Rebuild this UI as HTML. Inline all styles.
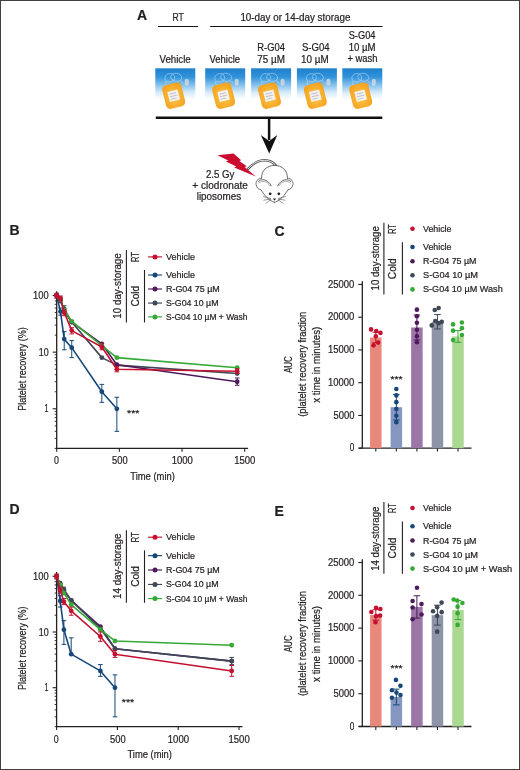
<!DOCTYPE html>
<html><head><meta charset="utf-8">
<style>
html,body{margin:0;padding:0;background:#fff;}
svg{display:block;font-family:"Liberation Sans",sans-serif;will-change:transform;}
</style></head>
<body>
<svg width="520" height="770" viewBox="0 0 520 770" fill="#231f20">
<style>text{stroke:#231f20;stroke-width:0.22px;}</style>
<rect x="0.5" y="0.5" width="519" height="769" fill="none" stroke="#414141" stroke-width="1"/>
<text x="137.00" y="20.00" font-size="14" font-weight="bold">A</text>
<text x="172.50" y="20.60" font-size="10" textLength="11.30" lengthAdjust="spacingAndGlyphs">RT</text>
<line x1="158.00" y1="26.50" x2="198.10" y2="26.50" stroke="#111" stroke-width="1.15"/>
<text x="240.40" y="20.50" font-size="10" textLength="110.00" lengthAdjust="spacingAndGlyphs">10-day or 14-day storage</text>
<line x1="210.20" y1="26.50" x2="382.50" y2="26.50" stroke="#111" stroke-width="1.15"/>
<text x="175.10" y="62.90" font-size="10" text-anchor="middle" textLength="31.20" lengthAdjust="spacingAndGlyphs">Vehicle</text>
<text x="224.80" y="62.90" font-size="10" text-anchor="middle" textLength="30.60" lengthAdjust="spacingAndGlyphs">Vehicle</text>
<text x="271.10" y="50.90" font-size="10" text-anchor="middle" textLength="27.60" lengthAdjust="spacingAndGlyphs">R-G04</text>
<text x="271.10" y="62.90" font-size="10" text-anchor="middle" textLength="27.60" lengthAdjust="spacingAndGlyphs">75 µM</text>
<text x="315.80" y="50.90" font-size="10" text-anchor="middle" textLength="27.60" lengthAdjust="spacingAndGlyphs">S-G04</text>
<text x="314.90" y="62.90" font-size="10" text-anchor="middle" textLength="27.60" lengthAdjust="spacingAndGlyphs">10 µM</text>
<text x="362.10" y="39.20" font-size="10" text-anchor="middle" textLength="26.80" lengthAdjust="spacingAndGlyphs">S-G04</text>
<text x="362.10" y="50.90" font-size="10" text-anchor="middle" textLength="26.90" lengthAdjust="spacingAndGlyphs">10 µM</text>
<text x="362.40" y="62.30" font-size="10" text-anchor="middle" textLength="30.00" lengthAdjust="spacingAndGlyphs">+ wash</text>
<defs>
<linearGradient id="cg" x1="0" y1="0" x2="0" y2="1">
<stop offset="0" stop-color="#1f80cc"/>
<stop offset="0.2" stop-color="#2f92da"/>
<stop offset="0.4" stop-color="#86c2ec"/>
<stop offset="0.58" stop-color="#d8ecfa"/>
<stop offset="0.74" stop-color="#ffffff"/>
<stop offset="1" stop-color="#ffffff"/>
</linearGradient>
<radialGradient id="og" cx="0.5" cy="0.55" r="0.62">
<stop offset="0" stop-color="#fcc64c"/>
<stop offset="0.6" stop-color="#f8b030"/>
<stop offset="1" stop-color="#f4a11c"/>
</radialGradient>
</defs>
<rect x="155.30" y="68.30" width="40.00" height="42.00" fill="url(#cg)"/>
<g fill="none" stroke="#e2f0fb" stroke-width="0.55" opacity="0.75"><ellipse cx="169.8" cy="77.8" rx="5" ry="4.2" transform="rotate(-10 169.8 77.8)"/><ellipse cx="176.3" cy="77.3" rx="5.5" ry="4" transform="rotate(8 176.3 77.3)"/><path d="M165.3,81.3 L167.3,87.3 M180.3,80.3 L183.3,83.3"/></g>
<rect x="184.8" y="78.8" width="4" height="7" rx="2" fill="#d0d8e2" opacity="0.85"/>
<g transform="translate(173.7,95.7) rotate(-14)"><rect x="-9.8" y="-12.2" width="19.6" height="24.4" rx="4.5" fill="url(#og)"/><rect x="-5.2" y="-5.2" width="10.4" height="10.4" fill="#f3f1ee"/><line x1="-3.6" y1="-2.4" x2="3" y2="-2.4" stroke="#9aa8c0" stroke-width="0.6"/><line x1="-3.6" y1="0.2" x2="3.6" y2="0.2" stroke="#b49ab8" stroke-width="0.6"/><line x1="-3.6" y1="2.8" x2="2" y2="2.8" stroke="#9ab8a8" stroke-width="0.6"/></g>
<rect x="205.20" y="68.30" width="40.00" height="42.00" fill="url(#cg)"/>
<g fill="none" stroke="#e2f0fb" stroke-width="0.55" opacity="0.75"><ellipse cx="219.7" cy="77.8" rx="5" ry="4.2" transform="rotate(-10 219.7 77.8)"/><ellipse cx="226.2" cy="77.3" rx="5.5" ry="4" transform="rotate(8 226.2 77.3)"/><path d="M215.2,81.3 L217.2,87.3 M230.2,80.3 L233.2,83.3"/></g>
<rect x="234.7" y="78.8" width="4" height="7" rx="2" fill="#d0d8e2" opacity="0.85"/>
<g transform="translate(223.6,95.7) rotate(-14)"><rect x="-9.8" y="-12.2" width="19.6" height="24.4" rx="4.5" fill="url(#og)"/><rect x="-5.2" y="-5.2" width="10.4" height="10.4" fill="#f3f1ee"/><line x1="-3.6" y1="-2.4" x2="3" y2="-2.4" stroke="#9aa8c0" stroke-width="0.6"/><line x1="-3.6" y1="0.2" x2="3.6" y2="0.2" stroke="#b49ab8" stroke-width="0.6"/><line x1="-3.6" y1="2.8" x2="2" y2="2.8" stroke="#9ab8a8" stroke-width="0.6"/></g>
<rect x="251.10" y="68.30" width="40.00" height="42.00" fill="url(#cg)"/>
<g fill="none" stroke="#e2f0fb" stroke-width="0.55" opacity="0.75"><ellipse cx="265.6" cy="77.8" rx="5" ry="4.2" transform="rotate(-10 265.6 77.8)"/><ellipse cx="272.1" cy="77.3" rx="5.5" ry="4" transform="rotate(8 272.1 77.3)"/><path d="M261.1,81.3 L263.1,87.3 M276.1,80.3 L279.1,83.3"/></g>
<rect x="280.6" y="78.8" width="4" height="7" rx="2" fill="#d0d8e2" opacity="0.85"/>
<g transform="translate(269.5,95.7) rotate(-14)"><rect x="-9.8" y="-12.2" width="19.6" height="24.4" rx="4.5" fill="url(#og)"/><rect x="-5.2" y="-5.2" width="10.4" height="10.4" fill="#f3f1ee"/><line x1="-3.6" y1="-2.4" x2="3" y2="-2.4" stroke="#9aa8c0" stroke-width="0.6"/><line x1="-3.6" y1="0.2" x2="3.6" y2="0.2" stroke="#b49ab8" stroke-width="0.6"/><line x1="-3.6" y1="2.8" x2="2" y2="2.8" stroke="#9ab8a8" stroke-width="0.6"/></g>
<rect x="296.90" y="68.30" width="40.00" height="42.00" fill="url(#cg)"/>
<g fill="none" stroke="#e2f0fb" stroke-width="0.55" opacity="0.75"><ellipse cx="311.4" cy="77.8" rx="5" ry="4.2" transform="rotate(-10 311.4 77.8)"/><ellipse cx="317.9" cy="77.3" rx="5.5" ry="4" transform="rotate(8 317.9 77.3)"/><path d="M306.9,81.3 L308.9,87.3 M321.9,80.3 L324.9,83.3"/></g>
<rect x="326.4" y="78.8" width="4" height="7" rx="2" fill="#d0d8e2" opacity="0.85"/>
<g transform="translate(315.3,95.7) rotate(-14)"><rect x="-9.8" y="-12.2" width="19.6" height="24.4" rx="4.5" fill="url(#og)"/><rect x="-5.2" y="-5.2" width="10.4" height="10.4" fill="#f3f1ee"/><line x1="-3.6" y1="-2.4" x2="3" y2="-2.4" stroke="#9aa8c0" stroke-width="0.6"/><line x1="-3.6" y1="0.2" x2="3.6" y2="0.2" stroke="#b49ab8" stroke-width="0.6"/><line x1="-3.6" y1="2.8" x2="2" y2="2.8" stroke="#9ab8a8" stroke-width="0.6"/></g>
<rect x="342.30" y="68.30" width="40.00" height="42.00" fill="url(#cg)"/>
<g fill="none" stroke="#e2f0fb" stroke-width="0.55" opacity="0.75"><ellipse cx="356.8" cy="77.8" rx="5" ry="4.2" transform="rotate(-10 356.8 77.8)"/><ellipse cx="363.3" cy="77.3" rx="5.5" ry="4" transform="rotate(8 363.3 77.3)"/><path d="M352.3,81.3 L354.3,87.3 M367.3,80.3 L370.3,83.3"/></g>
<rect x="371.8" y="78.8" width="4" height="7" rx="2" fill="#d0d8e2" opacity="0.85"/>
<g transform="translate(360.7,95.7) rotate(-14)"><rect x="-9.8" y="-12.2" width="19.6" height="24.4" rx="4.5" fill="url(#og)"/><rect x="-5.2" y="-5.2" width="10.4" height="10.4" fill="#f3f1ee"/><line x1="-3.6" y1="-2.4" x2="3" y2="-2.4" stroke="#9aa8c0" stroke-width="0.6"/><line x1="-3.6" y1="0.2" x2="3.6" y2="0.2" stroke="#b49ab8" stroke-width="0.6"/><line x1="-3.6" y1="2.8" x2="2" y2="2.8" stroke="#9ab8a8" stroke-width="0.6"/></g>
<line x1="155.80" y1="117.70" x2="382.30" y2="117.70" stroke="#111" stroke-width="2.5"/>
<line x1="269.10" y1="117.70" x2="269.10" y2="140.00" stroke="#111" stroke-width="2.5"/>
<path d="M260.8,135 L269.2,141 L277.3,135 L269.2,153.6 Z" fill="#111"/>
<path d="M217.6,155.2 L233.6,153.4 L241.2,160.2 L239.3,160.9 L246.8,166.3 L244.6,167.0 L255.8,176.6 L234.2,167.6 L236.2,166.6 L226.0,161.5 L228.2,160.6 Z" fill="#cc0c2f"/>
<g fill="none" stroke="#4a4a4a" stroke-width="0.8" stroke-linecap="round" stroke-linejoin="round"><path d="M248,168.9 C252,164.6 256,161.3 262,160.4 C268,159.7 273,161.6 276.4,166" stroke-width="2.3"/><path d="M248,168.9 C252,164.6 256,161.3 262,160.4 C268,159.7 273,161.6 276.4,166" stroke="#fff" stroke-width="0.9"/><path d="M261.6,178.2 C261,170.6 267,165.4 274.5,165.4 C282,165.4 288,170.6 287.4,178.2" fill="#fff"/><path d="M261.6,178.2 C257.5,178.3 255.6,181.6 256.1,184.6 C256.6,187.6 258.6,189.6 261.2,189.9 C264,195.2 269,200.6 274.5,202.4"/><path d="M 287.40 178.20 C 291.50 178.30 293.40 181.60 292.90 184.60 C 292.40 187.60 290.40 189.60 287.80 189.90 C 285.00 195.20 280.00 200.60 274.50 202.40"/><path d="M258.2,181.6 C260.5,178.6 267.6,178.4 271.2,185.6" stroke-width="0.85"/><path d="M 290.80 181.60 C 288.50 178.60 281.40 178.40 277.80 185.60" stroke-width="0.85"/><path d="M258.8,183.0 C261.4,180.4 267.2,180.4 270.4,186.2" stroke-width="0.6" stroke="#777"/><path d="M 290.20 183.00 C 287.60 180.40 281.80 180.40 278.60 186.20" stroke-width="0.6" stroke="#777"/><path d="M270.6,198.4 L263.4,196.6 M270.6,199.0 L263.8,200.2 M271.0,199.6 L265.8,203.4" stroke-width="0.55"/><path d="M 278.40 198.40 L 285.60 196.60 M 278.40 199.00 L 285.20 200.20 M 278.00 199.60 L 283.20 203.40" stroke-width="0.55"/></g>
<circle cx="270.2" cy="193.8" r="1.35" fill="#1e1e1e"/>
<circle cx="278.8" cy="193.8" r="1.35" fill="#1e1e1e"/>
<path d="M272.9,198.6 L276.1,198.6 L274.5,200.7 Z" fill="#1e1e1e"/>
<text x="220.20" y="177.60" font-size="10" text-anchor="middle" textLength="28.50" lengthAdjust="spacingAndGlyphs">2.5 Gy</text>
<text x="220.10" y="189.00" font-size="10" text-anchor="middle" textLength="55.50" lengthAdjust="spacingAndGlyphs">+ clodronate</text>
<text x="218.90" y="200.40" font-size="10" text-anchor="middle" textLength="44.40" lengthAdjust="spacingAndGlyphs">liposomes</text>
<text x="9.60" y="235.10" font-size="14" font-weight="bold">B</text>
<text transform="translate(120.80,318.70) rotate(-90)" font-size="10" textLength="65.50" lengthAdjust="spacingAndGlyphs">10 day-storage</text>
<line x1="126.40" y1="249.90" x2="126.40" y2="322.50" stroke="#231f20" stroke-width="1.1"/>
<text transform="translate(138.70,262.30) rotate(-90)" font-size="10" textLength="10.40" lengthAdjust="spacingAndGlyphs">RT</text>
<text transform="translate(138.70,306.50) rotate(-90)" font-size="10" textLength="20.70" lengthAdjust="spacingAndGlyphs">Cold</text>
<line x1="144.50" y1="270.00" x2="144.50" y2="322.50" stroke="#231f20" stroke-width="1.1"/>
<line x1="148.10" y1="256.90" x2="162.00" y2="256.90" stroke="#c5102f" stroke-width="1.15"/>
<circle cx="155.00" cy="256.90" r="2.5" fill="#c5102f"/>
<text x="166.00" y="259.80" font-size="9" textLength="29.00" lengthAdjust="spacingAndGlyphs">Vehicle</text>
<line x1="148.10" y1="275.00" x2="162.00" y2="275.00" stroke="#17487a" stroke-width="1.15"/>
<circle cx="155.00" cy="275.00" r="2.5" fill="#17487a"/>
<text x="166.00" y="277.90" font-size="9" textLength="29.00" lengthAdjust="spacingAndGlyphs">Vehicle</text>
<line x1="148.10" y1="289.00" x2="162.00" y2="289.00" stroke="#4e1a5c" stroke-width="1.15"/>
<circle cx="155.00" cy="289.00" r="2.5" fill="#4e1a5c"/>
<text x="166.00" y="291.90" font-size="9" textLength="53.80" lengthAdjust="spacingAndGlyphs">R-G04 75 µM</text>
<line x1="148.10" y1="303.10" x2="162.00" y2="303.10" stroke="#3e4857" stroke-width="1.15"/>
<circle cx="155.00" cy="303.10" r="2.5" fill="#3e4857"/>
<text x="166.00" y="306.00" font-size="9" textLength="52.50" lengthAdjust="spacingAndGlyphs">S-G04 10 µM</text>
<line x1="148.10" y1="316.90" x2="162.00" y2="316.90" stroke="#34aa34" stroke-width="1.15"/>
<circle cx="155.00" cy="316.90" r="2.5" fill="#34aa34"/>
<text x="166.00" y="319.80" font-size="9" textLength="81.50" lengthAdjust="spacingAndGlyphs">S-G04 10 µM + Wash</text>
<line x1="56.70" y1="291.20" x2="56.70" y2="448.35" stroke="#231f20" stroke-width="1.3"/>
<line x1="56.10" y1="448.35" x2="248.09" y2="448.35" stroke="#231f20" stroke-width="1.3"/>
<line x1="56.70" y1="448.35" x2="56.70" y2="451.75" stroke="#231f20" stroke-width="1.1"/>
<line x1="119.37" y1="448.35" x2="119.37" y2="451.75" stroke="#231f20" stroke-width="1.1"/>
<line x1="182.03" y1="448.35" x2="182.03" y2="451.75" stroke="#231f20" stroke-width="1.1"/>
<line x1="244.69" y1="448.35" x2="244.69" y2="451.75" stroke="#231f20" stroke-width="1.1"/>
<line x1="52.70" y1="408.80" x2="56.70" y2="408.80" stroke="#231f20" stroke-width="1.1"/>
<line x1="52.70" y1="352.15" x2="56.70" y2="352.15" stroke="#231f20" stroke-width="1.1"/>
<line x1="52.70" y1="295.50" x2="56.70" y2="295.50" stroke="#231f20" stroke-width="1.1"/>
<line x1="54.70" y1="448.40" x2="56.70" y2="448.40" stroke="#231f20" stroke-width="0.9"/>
<line x1="54.70" y1="438.42" x2="56.70" y2="438.42" stroke="#231f20" stroke-width="0.9"/>
<line x1="54.70" y1="431.34" x2="56.70" y2="431.34" stroke="#231f20" stroke-width="0.9"/>
<line x1="54.70" y1="425.85" x2="56.70" y2="425.85" stroke="#231f20" stroke-width="0.9"/>
<line x1="54.70" y1="421.37" x2="56.70" y2="421.37" stroke="#231f20" stroke-width="0.9"/>
<line x1="54.70" y1="417.58" x2="56.70" y2="417.58" stroke="#231f20" stroke-width="0.9"/>
<line x1="54.70" y1="414.29" x2="56.70" y2="414.29" stroke="#231f20" stroke-width="0.9"/>
<line x1="54.70" y1="411.39" x2="56.70" y2="411.39" stroke="#231f20" stroke-width="0.9"/>
<line x1="54.70" y1="391.75" x2="56.70" y2="391.75" stroke="#231f20" stroke-width="0.9"/>
<line x1="54.70" y1="381.77" x2="56.70" y2="381.77" stroke="#231f20" stroke-width="0.9"/>
<line x1="54.70" y1="374.69" x2="56.70" y2="374.69" stroke="#231f20" stroke-width="0.9"/>
<line x1="54.70" y1="369.20" x2="56.70" y2="369.20" stroke="#231f20" stroke-width="0.9"/>
<line x1="54.70" y1="364.72" x2="56.70" y2="364.72" stroke="#231f20" stroke-width="0.9"/>
<line x1="54.70" y1="360.93" x2="56.70" y2="360.93" stroke="#231f20" stroke-width="0.9"/>
<line x1="54.70" y1="357.64" x2="56.70" y2="357.64" stroke="#231f20" stroke-width="0.9"/>
<line x1="54.70" y1="354.74" x2="56.70" y2="354.74" stroke="#231f20" stroke-width="0.9"/>
<line x1="54.70" y1="335.10" x2="56.70" y2="335.10" stroke="#231f20" stroke-width="0.9"/>
<line x1="54.70" y1="325.12" x2="56.70" y2="325.12" stroke="#231f20" stroke-width="0.9"/>
<line x1="54.70" y1="318.04" x2="56.70" y2="318.04" stroke="#231f20" stroke-width="0.9"/>
<line x1="54.70" y1="312.55" x2="56.70" y2="312.55" stroke="#231f20" stroke-width="0.9"/>
<line x1="54.70" y1="308.07" x2="56.70" y2="308.07" stroke="#231f20" stroke-width="0.9"/>
<line x1="54.70" y1="304.28" x2="56.70" y2="304.28" stroke="#231f20" stroke-width="0.9"/>
<line x1="54.70" y1="300.99" x2="56.70" y2="300.99" stroke="#231f20" stroke-width="0.9"/>
<line x1="54.70" y1="298.09" x2="56.70" y2="298.09" stroke="#231f20" stroke-width="0.9"/>
<text x="48.70" y="299.00" font-size="10" text-anchor="end" textLength="15.60" lengthAdjust="spacingAndGlyphs">100</text>
<text x="48.60" y="355.65" font-size="10" text-anchor="end" textLength="9.90" lengthAdjust="spacingAndGlyphs">10</text>
<text x="48.50" y="412.30" font-size="10" text-anchor="end" textLength="3.90" lengthAdjust="spacingAndGlyphs">1</text>
<text x="56.40" y="464.15" font-size="10" text-anchor="middle" textLength="4.90" lengthAdjust="spacingAndGlyphs">0</text>
<text x="119.87" y="464.15" font-size="10" text-anchor="middle" textLength="15.60" lengthAdjust="spacingAndGlyphs">500</text>
<text x="182.23" y="464.15" font-size="10" text-anchor="middle" textLength="21.20" lengthAdjust="spacingAndGlyphs">1000</text>
<text x="244.79" y="464.15" font-size="10" text-anchor="middle" textLength="21.20" lengthAdjust="spacingAndGlyphs">1500</text>
<text x="152.60" y="480.15" font-size="10.8" text-anchor="middle" textLength="44.60" lengthAdjust="spacingAndGlyphs">Time (min)</text>
<text transform="translate(25.60,369.00) rotate(-90)" font-size="10.8" text-anchor="middle" textLength="83.60" lengthAdjust="spacingAndGlyphs">Platelet recovery (%)</text>
<path d="M56.70,295.50 L60.46,300.99 L64.22,308.90 L71.74,322.04 L101.82,357.64 L116.86,365.13 L237.18,373.49" fill="none" stroke="#3e4857" stroke-width="1.6" stroke-linejoin="round"/>
<line x1="64.22" y1="305.72" x2="64.22" y2="312.55" stroke="#3e4857" stroke-width="1.0"/>
<line x1="61.92" y1="305.72" x2="66.52" y2="305.72" stroke="#3e4857" stroke-width="1.0"/>
<line x1="61.92" y1="312.55" x2="66.52" y2="312.55" stroke="#3e4857" stroke-width="1.0"/>
<circle cx="56.70" cy="295.50" r="2.4" fill="#3e4857"/>
<circle cx="60.46" cy="300.99" r="2.4" fill="#3e4857"/>
<circle cx="64.22" cy="308.90" r="2.4" fill="#3e4857"/>
<circle cx="71.74" cy="322.04" r="2.4" fill="#3e4857"/>
<circle cx="101.82" cy="357.64" r="2.4" fill="#3e4857"/>
<circle cx="116.86" cy="365.13" r="2.4" fill="#3e4857"/>
<circle cx="237.18" cy="373.49" r="2.4" fill="#3e4857"/>
<path d="M56.70,295.50 L60.46,299.50 L64.22,311.59 L71.74,322.04 L101.82,343.87 L116.86,364.72 L237.18,381.77" fill="none" stroke="#4e1a5c" stroke-width="1.6" stroke-linejoin="round"/>
<line x1="237.18" y1="377.98" x2="237.18" y2="385.29" stroke="#4e1a5c" stroke-width="1.0"/>
<line x1="234.88" y1="377.98" x2="239.48" y2="377.98" stroke="#4e1a5c" stroke-width="1.0"/>
<line x1="234.88" y1="385.29" x2="239.48" y2="385.29" stroke="#4e1a5c" stroke-width="1.0"/>
<circle cx="56.70" cy="295.50" r="2.4" fill="#4e1a5c"/>
<circle cx="60.46" cy="299.50" r="2.4" fill="#4e1a5c"/>
<circle cx="64.22" cy="311.59" r="2.4" fill="#4e1a5c"/>
<circle cx="71.74" cy="322.04" r="2.4" fill="#4e1a5c"/>
<circle cx="101.82" cy="343.87" r="2.4" fill="#4e1a5c"/>
<circle cx="116.86" cy="364.72" r="2.4" fill="#4e1a5c"/>
<circle cx="237.18" cy="381.77" r="2.4" fill="#4e1a5c"/>
<path d="M56.70,295.50 L60.46,299.50 L64.22,310.21 L71.74,321.33 L101.82,345.70 L116.86,357.64 L237.18,367.77" fill="none" stroke="#34aa34" stroke-width="1.6" stroke-linejoin="round"/>
<circle cx="56.70" cy="295.50" r="2.4" fill="#34aa34"/>
<circle cx="60.46" cy="299.50" r="2.4" fill="#34aa34"/>
<circle cx="64.22" cy="310.21" r="2.4" fill="#34aa34"/>
<circle cx="71.74" cy="321.33" r="2.4" fill="#34aa34"/>
<circle cx="101.82" cy="345.70" r="2.4" fill="#34aa34"/>
<circle cx="116.86" cy="357.64" r="2.4" fill="#34aa34"/>
<circle cx="237.18" cy="367.77" r="2.4" fill="#34aa34"/>
<path d="M56.70,295.50 L60.46,311.59 L64.22,339.10 L71.74,347.66 L101.82,391.75 L116.86,408.80" fill="none" stroke="#17487a" stroke-width="1.6" stroke-linejoin="round"/>
<line x1="60.46" y1="308.07" x2="60.46" y2="315.15" stroke="#17487a" stroke-width="1.0"/>
<line x1="58.16" y1="308.07" x2="62.76" y2="308.07" stroke="#17487a" stroke-width="1.0"/>
<line x1="58.16" y1="315.15" x2="62.76" y2="315.15" stroke="#17487a" stroke-width="1.0"/>
<line x1="64.22" y1="331.66" x2="64.22" y2="349.81" stroke="#17487a" stroke-width="1.0"/>
<line x1="61.92" y1="331.66" x2="66.52" y2="331.66" stroke="#17487a" stroke-width="1.0"/>
<line x1="61.92" y1="349.81" x2="66.52" y2="349.81" stroke="#17487a" stroke-width="1.0"/>
<line x1="71.74" y1="340.59" x2="71.74" y2="357.64" stroke="#17487a" stroke-width="1.0"/>
<line x1="69.44" y1="340.59" x2="74.04" y2="340.59" stroke="#17487a" stroke-width="1.0"/>
<line x1="69.44" y1="357.64" x2="74.04" y2="357.64" stroke="#17487a" stroke-width="1.0"/>
<line x1="101.82" y1="384.36" x2="101.82" y2="402.35" stroke="#17487a" stroke-width="1.0"/>
<line x1="99.52" y1="384.36" x2="104.12" y2="384.36" stroke="#17487a" stroke-width="1.0"/>
<line x1="99.52" y1="402.35" x2="104.12" y2="402.35" stroke="#17487a" stroke-width="1.0"/>
<line x1="116.86" y1="397.24" x2="116.86" y2="431.34" stroke="#17487a" stroke-width="1.0"/>
<line x1="114.56" y1="397.24" x2="119.16" y2="397.24" stroke="#17487a" stroke-width="1.0"/>
<line x1="114.56" y1="431.34" x2="119.16" y2="431.34" stroke="#17487a" stroke-width="1.0"/>
<circle cx="56.70" cy="295.50" r="2.4" fill="#17487a"/>
<circle cx="60.46" cy="311.59" r="2.4" fill="#17487a"/>
<circle cx="64.22" cy="339.10" r="2.4" fill="#17487a"/>
<circle cx="71.74" cy="347.66" r="2.4" fill="#17487a"/>
<circle cx="101.82" cy="391.75" r="2.4" fill="#17487a"/>
<circle cx="116.86" cy="408.80" r="2.4" fill="#17487a"/>
<path d="M56.70,295.50 L60.46,298.09 L64.22,312.55 L71.74,330.61 L101.82,347.06 L116.86,369.20 L237.18,371.25" fill="none" stroke="#c5102f" stroke-width="1.6" stroke-linejoin="round"/>
<line x1="56.70" y1="293.16" x2="56.70" y2="298.09" stroke="#c5102f" stroke-width="1.0"/>
<line x1="54.40" y1="293.16" x2="59.00" y2="293.16" stroke="#c5102f" stroke-width="1.0"/>
<line x1="54.40" y1="298.09" x2="59.00" y2="298.09" stroke="#c5102f" stroke-width="1.0"/>
<line x1="60.46" y1="296.00" x2="60.46" y2="300.38" stroke="#c5102f" stroke-width="1.0"/>
<line x1="58.16" y1="296.00" x2="62.76" y2="296.00" stroke="#c5102f" stroke-width="1.0"/>
<line x1="58.16" y1="300.38" x2="62.76" y2="300.38" stroke="#c5102f" stroke-width="1.0"/>
<line x1="64.22" y1="309.77" x2="64.22" y2="315.70" stroke="#c5102f" stroke-width="1.0"/>
<line x1="61.92" y1="309.77" x2="66.52" y2="309.77" stroke="#c5102f" stroke-width="1.0"/>
<line x1="61.92" y1="315.70" x2="66.52" y2="315.70" stroke="#c5102f" stroke-width="1.0"/>
<line x1="71.74" y1="327.71" x2="71.74" y2="333.90" stroke="#c5102f" stroke-width="1.0"/>
<line x1="69.44" y1="327.71" x2="74.04" y2="327.71" stroke="#c5102f" stroke-width="1.0"/>
<line x1="69.44" y1="333.90" x2="74.04" y2="333.90" stroke="#c5102f" stroke-width="1.0"/>
<line x1="101.82" y1="343.87" x2="101.82" y2="349.81" stroke="#c5102f" stroke-width="1.0"/>
<line x1="99.52" y1="343.87" x2="104.12" y2="343.87" stroke="#c5102f" stroke-width="1.0"/>
<line x1="99.52" y1="349.81" x2="104.12" y2="349.81" stroke="#c5102f" stroke-width="1.0"/>
<line x1="116.86" y1="366.42" x2="116.86" y2="371.80" stroke="#c5102f" stroke-width="1.0"/>
<line x1="114.56" y1="366.42" x2="119.16" y2="366.42" stroke="#c5102f" stroke-width="1.0"/>
<line x1="114.56" y1="371.80" x2="119.16" y2="371.80" stroke="#c5102f" stroke-width="1.0"/>
<line x1="237.18" y1="368.72" x2="237.18" y2="373.49" stroke="#c5102f" stroke-width="1.0"/>
<line x1="234.88" y1="368.72" x2="239.48" y2="368.72" stroke="#c5102f" stroke-width="1.0"/>
<line x1="234.88" y1="373.49" x2="239.48" y2="373.49" stroke="#c5102f" stroke-width="1.0"/>
<circle cx="56.70" cy="295.50" r="2.4" fill="#c5102f"/>
<circle cx="60.46" cy="298.09" r="2.4" fill="#c5102f"/>
<circle cx="64.22" cy="312.55" r="2.4" fill="#c5102f"/>
<circle cx="71.74" cy="330.61" r="2.4" fill="#c5102f"/>
<circle cx="101.82" cy="347.06" r="2.4" fill="#c5102f"/>
<circle cx="116.86" cy="369.20" r="2.4" fill="#c5102f"/>
<circle cx="237.18" cy="371.25" r="2.4" fill="#c5102f"/>
<text x="133.20" y="415.90" font-size="9" text-anchor="middle" textLength="12.40" lengthAdjust="spacingAndGlyphs">***</text>
<text x="9.60" y="514.40" font-size="14" font-weight="bold">D</text>
<text transform="translate(120.80,599.00) rotate(-90)" font-size="10" textLength="65.50" lengthAdjust="spacingAndGlyphs">14 day-storage</text>
<line x1="126.40" y1="530.20" x2="126.40" y2="602.80" stroke="#231f20" stroke-width="1.1"/>
<text transform="translate(138.70,542.60) rotate(-90)" font-size="10" textLength="10.40" lengthAdjust="spacingAndGlyphs">RT</text>
<text transform="translate(138.70,586.80) rotate(-90)" font-size="10" textLength="20.70" lengthAdjust="spacingAndGlyphs">Cold</text>
<line x1="144.50" y1="550.30" x2="144.50" y2="602.80" stroke="#231f20" stroke-width="1.1"/>
<line x1="148.10" y1="537.20" x2="162.00" y2="537.20" stroke="#c5102f" stroke-width="1.15"/>
<circle cx="155.00" cy="537.20" r="2.5" fill="#c5102f"/>
<text x="166.00" y="540.10" font-size="9" textLength="29.00" lengthAdjust="spacingAndGlyphs">Vehicle</text>
<line x1="148.10" y1="555.65" x2="162.00" y2="555.65" stroke="#17487a" stroke-width="1.15"/>
<circle cx="155.00" cy="555.65" r="2.5" fill="#17487a"/>
<text x="166.00" y="558.55" font-size="9" textLength="29.00" lengthAdjust="spacingAndGlyphs">Vehicle</text>
<line x1="148.10" y1="570.00" x2="162.00" y2="570.00" stroke="#4e1a5c" stroke-width="1.15"/>
<circle cx="155.00" cy="570.00" r="2.5" fill="#4e1a5c"/>
<text x="166.00" y="572.90" font-size="9" textLength="53.80" lengthAdjust="spacingAndGlyphs">R-G04 75 µM</text>
<line x1="148.10" y1="584.45" x2="162.00" y2="584.45" stroke="#3e4857" stroke-width="1.15"/>
<circle cx="155.00" cy="584.45" r="2.5" fill="#3e4857"/>
<text x="166.00" y="587.35" font-size="9" textLength="52.50" lengthAdjust="spacingAndGlyphs">S-G04 10 µM</text>
<line x1="148.10" y1="598.60" x2="162.00" y2="598.60" stroke="#34aa34" stroke-width="1.15"/>
<circle cx="155.00" cy="598.60" r="2.5" fill="#34aa34"/>
<text x="166.00" y="601.50" font-size="9" textLength="81.50" lengthAdjust="spacingAndGlyphs">S-G04 10 µM + Wash</text>
<line x1="56.60" y1="572.00" x2="56.60" y2="726.60" stroke="#231f20" stroke-width="1.3"/>
<line x1="56.00" y1="726.60" x2="242.40" y2="726.60" stroke="#231f20" stroke-width="1.3"/>
<line x1="56.60" y1="726.60" x2="56.60" y2="730.00" stroke="#231f20" stroke-width="1.1"/>
<line x1="117.40" y1="726.60" x2="117.40" y2="730.00" stroke="#231f20" stroke-width="1.1"/>
<line x1="178.20" y1="726.60" x2="178.20" y2="730.00" stroke="#231f20" stroke-width="1.1"/>
<line x1="239.00" y1="726.60" x2="239.00" y2="730.00" stroke="#231f20" stroke-width="1.1"/>
<line x1="52.60" y1="687.70" x2="56.60" y2="687.70" stroke="#231f20" stroke-width="1.1"/>
<line x1="52.60" y1="632.00" x2="56.60" y2="632.00" stroke="#231f20" stroke-width="1.1"/>
<line x1="52.60" y1="576.30" x2="56.60" y2="576.30" stroke="#231f20" stroke-width="1.1"/>
<line x1="54.60" y1="726.63" x2="56.60" y2="726.63" stroke="#231f20" stroke-width="0.9"/>
<line x1="54.60" y1="716.82" x2="56.60" y2="716.82" stroke="#231f20" stroke-width="0.9"/>
<line x1="54.60" y1="709.87" x2="56.60" y2="709.87" stroke="#231f20" stroke-width="0.9"/>
<line x1="54.60" y1="704.47" x2="56.60" y2="704.47" stroke="#231f20" stroke-width="0.9"/>
<line x1="54.60" y1="700.06" x2="56.60" y2="700.06" stroke="#231f20" stroke-width="0.9"/>
<line x1="54.60" y1="696.33" x2="56.60" y2="696.33" stroke="#231f20" stroke-width="0.9"/>
<line x1="54.60" y1="693.10" x2="56.60" y2="693.10" stroke="#231f20" stroke-width="0.9"/>
<line x1="54.60" y1="690.25" x2="56.60" y2="690.25" stroke="#231f20" stroke-width="0.9"/>
<line x1="54.60" y1="670.93" x2="56.60" y2="670.93" stroke="#231f20" stroke-width="0.9"/>
<line x1="54.60" y1="661.12" x2="56.60" y2="661.12" stroke="#231f20" stroke-width="0.9"/>
<line x1="54.60" y1="654.17" x2="56.60" y2="654.17" stroke="#231f20" stroke-width="0.9"/>
<line x1="54.60" y1="648.77" x2="56.60" y2="648.77" stroke="#231f20" stroke-width="0.9"/>
<line x1="54.60" y1="644.36" x2="56.60" y2="644.36" stroke="#231f20" stroke-width="0.9"/>
<line x1="54.60" y1="640.63" x2="56.60" y2="640.63" stroke="#231f20" stroke-width="0.9"/>
<line x1="54.60" y1="637.40" x2="56.60" y2="637.40" stroke="#231f20" stroke-width="0.9"/>
<line x1="54.60" y1="634.55" x2="56.60" y2="634.55" stroke="#231f20" stroke-width="0.9"/>
<line x1="54.60" y1="615.23" x2="56.60" y2="615.23" stroke="#231f20" stroke-width="0.9"/>
<line x1="54.60" y1="605.42" x2="56.60" y2="605.42" stroke="#231f20" stroke-width="0.9"/>
<line x1="54.60" y1="598.47" x2="56.60" y2="598.47" stroke="#231f20" stroke-width="0.9"/>
<line x1="54.60" y1="593.07" x2="56.60" y2="593.07" stroke="#231f20" stroke-width="0.9"/>
<line x1="54.60" y1="588.66" x2="56.60" y2="588.66" stroke="#231f20" stroke-width="0.9"/>
<line x1="54.60" y1="584.93" x2="56.60" y2="584.93" stroke="#231f20" stroke-width="0.9"/>
<line x1="54.60" y1="581.70" x2="56.60" y2="581.70" stroke="#231f20" stroke-width="0.9"/>
<line x1="54.60" y1="578.85" x2="56.60" y2="578.85" stroke="#231f20" stroke-width="0.9"/>
<text x="48.70" y="579.80" font-size="10" text-anchor="end" textLength="15.60" lengthAdjust="spacingAndGlyphs">100</text>
<text x="48.60" y="635.50" font-size="10" text-anchor="end" textLength="9.90" lengthAdjust="spacingAndGlyphs">10</text>
<text x="48.50" y="691.20" font-size="10" text-anchor="end" textLength="3.90" lengthAdjust="spacingAndGlyphs">1</text>
<text x="56.30" y="742.60" font-size="10" text-anchor="middle" textLength="4.90" lengthAdjust="spacingAndGlyphs">0</text>
<text x="117.90" y="742.60" font-size="10" text-anchor="middle" textLength="15.60" lengthAdjust="spacingAndGlyphs">500</text>
<text x="178.40" y="742.60" font-size="10" text-anchor="middle" textLength="21.20" lengthAdjust="spacingAndGlyphs">1000</text>
<text x="239.10" y="742.60" font-size="10" text-anchor="middle" textLength="21.20" lengthAdjust="spacingAndGlyphs">1500</text>
<text x="149.70" y="758.40" font-size="10.8" text-anchor="middle" textLength="44.60" lengthAdjust="spacingAndGlyphs">Time (min)</text>
<text transform="translate(25.60,648.30) rotate(-90)" font-size="10.8" text-anchor="middle" textLength="83.60" lengthAdjust="spacingAndGlyphs">Platelet recovery (%)</text>
<path d="M56.60,576.30 L60.25,584.93 L63.90,590.76 L71.19,600.35 L100.38,626.60 L114.97,648.77 L231.70,661.12" fill="none" stroke="#4e1a5c" stroke-width="1.6" stroke-linejoin="round"/>
<circle cx="56.60" cy="576.30" r="2.4" fill="#4e1a5c"/>
<circle cx="60.25" cy="584.93" r="2.4" fill="#4e1a5c"/>
<circle cx="63.90" cy="590.76" r="2.4" fill="#4e1a5c"/>
<circle cx="71.19" cy="600.35" r="2.4" fill="#4e1a5c"/>
<circle cx="100.38" cy="626.60" r="2.4" fill="#4e1a5c"/>
<circle cx="114.97" cy="648.77" r="2.4" fill="#4e1a5c"/>
<circle cx="231.70" cy="661.12" r="2.4" fill="#4e1a5c"/>
<path d="M56.60,576.30 L60.25,583.26 L63.90,589.48 L71.19,600.35 L100.38,628.62 L114.97,648.77 L231.70,661.12" fill="none" stroke="#3e4857" stroke-width="1.6" stroke-linejoin="round"/>
<line x1="63.90" y1="587.10" x2="63.90" y2="592.12" stroke="#3e4857" stroke-width="1.0"/>
<line x1="61.60" y1="587.10" x2="66.20" y2="587.10" stroke="#3e4857" stroke-width="1.0"/>
<line x1="61.60" y1="592.12" x2="66.20" y2="592.12" stroke="#3e4857" stroke-width="1.0"/>
<line x1="231.70" y1="657.40" x2="231.70" y2="664.59" stroke="#3e4857" stroke-width="1.0"/>
<line x1="229.40" y1="657.40" x2="234.00" y2="657.40" stroke="#3e4857" stroke-width="1.0"/>
<line x1="229.40" y1="664.59" x2="234.00" y2="664.59" stroke="#3e4857" stroke-width="1.0"/>
<circle cx="56.60" cy="576.30" r="2.4" fill="#3e4857"/>
<circle cx="60.25" cy="583.26" r="2.4" fill="#3e4857"/>
<circle cx="63.90" cy="589.48" r="2.4" fill="#3e4857"/>
<circle cx="71.19" cy="600.35" r="2.4" fill="#3e4857"/>
<circle cx="100.38" cy="628.62" r="2.4" fill="#3e4857"/>
<circle cx="114.97" cy="648.77" r="2.4" fill="#3e4857"/>
<circle cx="231.70" cy="661.12" r="2.4" fill="#3e4857"/>
<path d="M56.60,576.30 L60.25,584.93 L63.90,593.07 L71.19,604.63 L100.38,629.69 L114.97,640.98 L231.70,645.18" fill="none" stroke="#34aa34" stroke-width="1.6" stroke-linejoin="round"/>
<circle cx="56.60" cy="576.30" r="2.4" fill="#34aa34"/>
<circle cx="60.25" cy="584.93" r="2.4" fill="#34aa34"/>
<circle cx="63.90" cy="593.07" r="2.4" fill="#34aa34"/>
<circle cx="71.19" cy="604.63" r="2.4" fill="#34aa34"/>
<circle cx="100.38" cy="629.69" r="2.4" fill="#34aa34"/>
<circle cx="114.97" cy="640.98" r="2.4" fill="#34aa34"/>
<circle cx="231.70" cy="645.18" r="2.4" fill="#34aa34"/>
<path d="M56.60,576.30 L60.25,601.01 L63.90,629.69 L71.19,654.17 L100.38,670.93 L114.97,687.70" fill="none" stroke="#17487a" stroke-width="1.6" stroke-linejoin="round"/>
<line x1="60.25" y1="595.62" x2="60.25" y2="607.09" stroke="#17487a" stroke-width="1.0"/>
<line x1="57.95" y1="595.62" x2="62.55" y2="595.62" stroke="#17487a" stroke-width="1.0"/>
<line x1="57.95" y1="607.09" x2="62.55" y2="607.09" stroke="#17487a" stroke-width="1.0"/>
<line x1="63.90" y1="620.63" x2="63.90" y2="644.36" stroke="#17487a" stroke-width="1.0"/>
<line x1="61.60" y1="620.63" x2="66.20" y2="620.63" stroke="#17487a" stroke-width="1.0"/>
<line x1="61.60" y1="644.36" x2="66.20" y2="644.36" stroke="#17487a" stroke-width="1.0"/>
<line x1="71.19" y1="637.86" x2="71.19" y2="654.17" stroke="#17487a" stroke-width="1.0"/>
<line x1="68.89" y1="637.86" x2="73.49" y2="637.86" stroke="#17487a" stroke-width="1.0"/>
<line x1="68.89" y1="654.17" x2="73.49" y2="654.17" stroke="#17487a" stroke-width="1.0"/>
<line x1="100.38" y1="664.59" x2="100.38" y2="676.33" stroke="#17487a" stroke-width="1.0"/>
<line x1="98.08" y1="664.59" x2="102.68" y2="664.59" stroke="#17487a" stroke-width="1.0"/>
<line x1="98.08" y1="676.33" x2="102.68" y2="676.33" stroke="#17487a" stroke-width="1.0"/>
<line x1="114.97" y1="674.86" x2="114.97" y2="716.82" stroke="#17487a" stroke-width="1.0"/>
<line x1="112.67" y1="674.86" x2="117.27" y2="674.86" stroke="#17487a" stroke-width="1.0"/>
<line x1="112.67" y1="716.82" x2="117.27" y2="716.82" stroke="#17487a" stroke-width="1.0"/>
<circle cx="56.60" cy="576.30" r="2.4" fill="#17487a"/>
<circle cx="60.25" cy="601.01" r="2.4" fill="#17487a"/>
<circle cx="63.90" cy="629.69" r="2.4" fill="#17487a"/>
<circle cx="71.19" cy="654.17" r="2.4" fill="#17487a"/>
<circle cx="100.38" cy="670.93" r="2.4" fill="#17487a"/>
<circle cx="114.97" cy="687.70" r="2.4" fill="#17487a"/>
<path d="M56.60,576.30 L60.25,589.90 L63.90,601.70 L71.19,610.82 L100.38,636.51 L114.97,654.17 L231.70,670.93" fill="none" stroke="#c5102f" stroke-width="1.6" stroke-linejoin="round"/>
<line x1="56.60" y1="573.99" x2="56.60" y2="578.85" stroke="#c5102f" stroke-width="1.0"/>
<line x1="54.30" y1="573.99" x2="58.90" y2="573.99" stroke="#c5102f" stroke-width="1.0"/>
<line x1="54.30" y1="578.85" x2="58.90" y2="578.85" stroke="#c5102f" stroke-width="1.0"/>
<line x1="60.25" y1="587.10" x2="60.25" y2="593.07" stroke="#c5102f" stroke-width="1.0"/>
<line x1="57.95" y1="587.10" x2="62.55" y2="587.10" stroke="#c5102f" stroke-width="1.0"/>
<line x1="57.95" y1="593.07" x2="62.55" y2="593.07" stroke="#c5102f" stroke-width="1.0"/>
<line x1="63.90" y1="598.47" x2="63.90" y2="604.63" stroke="#c5102f" stroke-width="1.0"/>
<line x1="61.60" y1="598.47" x2="66.20" y2="598.47" stroke="#c5102f" stroke-width="1.0"/>
<line x1="61.60" y1="604.63" x2="66.20" y2="604.63" stroke="#c5102f" stroke-width="1.0"/>
<line x1="71.19" y1="607.09" x2="71.19" y2="615.23" stroke="#c5102f" stroke-width="1.0"/>
<line x1="68.89" y1="607.09" x2="73.49" y2="607.09" stroke="#c5102f" stroke-width="1.0"/>
<line x1="68.89" y1="615.23" x2="73.49" y2="615.23" stroke="#c5102f" stroke-width="1.0"/>
<line x1="100.38" y1="632.00" x2="100.38" y2="641.33" stroke="#c5102f" stroke-width="1.0"/>
<line x1="98.08" y1="632.00" x2="102.68" y2="632.00" stroke="#c5102f" stroke-width="1.0"/>
<line x1="98.08" y1="641.33" x2="102.68" y2="641.33" stroke="#c5102f" stroke-width="1.0"/>
<line x1="114.97" y1="650.78" x2="114.97" y2="657.40" stroke="#c5102f" stroke-width="1.0"/>
<line x1="112.67" y1="650.78" x2="117.27" y2="650.78" stroke="#c5102f" stroke-width="1.0"/>
<line x1="112.67" y1="657.40" x2="117.27" y2="657.40" stroke="#c5102f" stroke-width="1.0"/>
<line x1="231.70" y1="665.53" x2="231.70" y2="676.33" stroke="#c5102f" stroke-width="1.0"/>
<line x1="229.40" y1="665.53" x2="234.00" y2="665.53" stroke="#c5102f" stroke-width="1.0"/>
<line x1="229.40" y1="676.33" x2="234.00" y2="676.33" stroke="#c5102f" stroke-width="1.0"/>
<circle cx="56.60" cy="576.30" r="2.4" fill="#c5102f"/>
<circle cx="60.25" cy="589.90" r="2.4" fill="#c5102f"/>
<circle cx="63.90" cy="601.70" r="2.4" fill="#c5102f"/>
<circle cx="71.19" cy="610.82" r="2.4" fill="#c5102f"/>
<circle cx="100.38" cy="636.51" r="2.4" fill="#c5102f"/>
<circle cx="114.97" cy="654.17" r="2.4" fill="#c5102f"/>
<circle cx="231.70" cy="670.93" r="2.4" fill="#c5102f"/>
<text x="128.00" y="704.50" font-size="9" text-anchor="middle" textLength="12.40" lengthAdjust="spacingAndGlyphs">***</text>
<text x="274.40" y="236.30" font-size="14" font-weight="bold">C</text>
<text transform="translate(378.60,290.40) rotate(-90)" font-size="10" textLength="64.20" lengthAdjust="spacingAndGlyphs">10 day-storage</text>
<line x1="383.90" y1="222.80" x2="383.90" y2="294.50" stroke="#231f20" stroke-width="1.1"/>
<text transform="translate(396.10,233.80) rotate(-90)" font-size="10" textLength="9.60" lengthAdjust="spacingAndGlyphs">RT</text>
<text transform="translate(395.90,279.20) rotate(-90)" font-size="10" textLength="20.90" lengthAdjust="spacingAndGlyphs">Cold</text>
<line x1="402.40" y1="242.20" x2="402.40" y2="294.50" stroke="#231f20" stroke-width="1.1"/>
<circle cx="412.50" cy="228.80" r="2.3" fill="#c5102f"/>
<text x="423.00" y="231.80" font-size="9" textLength="28.50" lengthAdjust="spacingAndGlyphs">Vehicle</text>
<circle cx="412.50" cy="247.00" r="2.3" fill="#17487a"/>
<text x="423.00" y="250.00" font-size="9" textLength="28.50" lengthAdjust="spacingAndGlyphs">Vehicle</text>
<circle cx="412.50" cy="261.30" r="2.3" fill="#4e1a5c"/>
<text x="423.00" y="264.30" font-size="9" textLength="53.50" lengthAdjust="spacingAndGlyphs">R-G04 75 µM</text>
<circle cx="412.50" cy="275.30" r="2.3" fill="#3e4857"/>
<text x="423.00" y="278.30" font-size="9" textLength="55.00" lengthAdjust="spacingAndGlyphs">S-G04 10 µM</text>
<circle cx="412.50" cy="289.40" r="2.3" fill="#34aa34"/>
<text x="423.00" y="292.40" font-size="9" textLength="79.70" lengthAdjust="spacingAndGlyphs">S-G04 10 µM Wash</text>
<line x1="362.30" y1="281.15" x2="362.30" y2="448.20" stroke="#231f20" stroke-width="1.3"/>
<line x1="358.70" y1="448.20" x2="471.50" y2="448.20" stroke="#231f20" stroke-width="1.3"/>
<line x1="358.30" y1="448.20" x2="362.30" y2="448.20" stroke="#231f20" stroke-width="1.1"/>
<text x="354.40" y="451.40" font-size="10.2" text-anchor="end" textLength="4.60" lengthAdjust="spacingAndGlyphs">0</text>
<line x1="358.30" y1="415.45" x2="362.30" y2="415.45" stroke="#231f20" stroke-width="1.1"/>
<text x="354.40" y="418.65" font-size="10.2" text-anchor="end" textLength="20.90" lengthAdjust="spacingAndGlyphs">5000</text>
<line x1="358.30" y1="382.70" x2="362.30" y2="382.70" stroke="#231f20" stroke-width="1.1"/>
<text x="354.40" y="385.90" font-size="10.2" text-anchor="end" textLength="26.30" lengthAdjust="spacingAndGlyphs">10000</text>
<line x1="358.30" y1="349.95" x2="362.30" y2="349.95" stroke="#231f20" stroke-width="1.1"/>
<text x="354.40" y="353.15" font-size="10.2" text-anchor="end" textLength="26.30" lengthAdjust="spacingAndGlyphs">15000</text>
<line x1="358.30" y1="317.20" x2="362.30" y2="317.20" stroke="#231f20" stroke-width="1.1"/>
<text x="354.40" y="320.40" font-size="10.2" text-anchor="end" textLength="26.30" lengthAdjust="spacingAndGlyphs">20000</text>
<line x1="358.30" y1="284.45" x2="362.30" y2="284.45" stroke="#231f20" stroke-width="1.1"/>
<text x="354.40" y="287.65" font-size="10.2" text-anchor="end" textLength="26.30" lengthAdjust="spacingAndGlyphs">25000</text>
<line x1="375.80" y1="448.20" x2="375.80" y2="451.60" stroke="#231f20" stroke-width="1.1"/>
<line x1="396.35" y1="448.20" x2="396.35" y2="451.60" stroke="#231f20" stroke-width="1.1"/>
<line x1="416.90" y1="448.20" x2="416.90" y2="451.60" stroke="#231f20" stroke-width="1.1"/>
<line x1="437.45" y1="448.20" x2="437.45" y2="451.60" stroke="#231f20" stroke-width="1.1"/>
<line x1="458.00" y1="448.20" x2="458.00" y2="451.60" stroke="#231f20" stroke-width="1.1"/>
<text transform="translate(291.60,364.60) rotate(-90)" font-size="10.8" text-anchor="middle" textLength="17.00" lengthAdjust="spacingAndGlyphs">AUC</text>
<text transform="translate(305.80,364.30) rotate(-90)" font-size="10.8" text-anchor="middle" textLength="105.00" lengthAdjust="spacingAndGlyphs">(platelet recovery fraction</text>
<text transform="translate(320.00,364.70) rotate(-90)" font-size="10.8" text-anchor="middle" textLength="76.00" lengthAdjust="spacingAndGlyphs">x time in minutes)</text>
<rect x="370.05" y="337.50" width="11.50" height="110.69" fill="#e8887c"/>
<rect x="390.60" y="407.20" width="11.50" height="41.00" fill="#8596c0"/>
<rect x="411.15" y="327.48" width="11.50" height="120.72" fill="#9d76a8"/>
<rect x="431.70" y="321.78" width="11.50" height="126.42" fill="#8c94a5"/>
<rect x="452.25" y="336.46" width="11.50" height="111.74" fill="#abd892"/>
<line x1="375.80" y1="332.26" x2="375.80" y2="342.75" stroke="#c5102f" stroke-width="1.0"/>
<line x1="372.50" y1="332.26" x2="379.10" y2="332.26" stroke="#c5102f" stroke-width="1.0"/>
<line x1="372.50" y1="342.75" x2="379.10" y2="342.75" stroke="#c5102f" stroke-width="1.0"/>
<circle cx="371.05" cy="329.38" r="2.3" fill="#c5102f"/>
<circle cx="376.25" cy="330.95" r="2.3" fill="#c5102f"/>
<circle cx="380.45" cy="332.92" r="2.3" fill="#c5102f"/>
<circle cx="375.85" cy="336.26" r="2.3" fill="#c5102f"/>
<circle cx="378.15" cy="342.61" r="2.3" fill="#c5102f"/>
<circle cx="373.55" cy="345.37" r="2.3" fill="#c5102f"/>
<line x1="396.35" y1="394.42" x2="396.35" y2="419.97" stroke="#17487a" stroke-width="1.0"/>
<line x1="393.05" y1="394.42" x2="399.65" y2="394.42" stroke="#17487a" stroke-width="1.0"/>
<line x1="393.05" y1="419.97" x2="399.65" y2="419.97" stroke="#17487a" stroke-width="1.0"/>
<circle cx="396.35" cy="389.05" r="2.3" fill="#17487a"/>
<circle cx="396.35" cy="395.41" r="2.3" fill="#17487a"/>
<circle cx="396.35" cy="402.15" r="2.3" fill="#17487a"/>
<circle cx="396.35" cy="409.00" r="2.3" fill="#17487a"/>
<circle cx="396.35" cy="415.78" r="2.3" fill="#17487a"/>
<circle cx="396.35" cy="422.13" r="2.3" fill="#17487a"/>
<line x1="416.90" y1="315.04" x2="416.90" y2="339.93" stroke="#4e1a5c" stroke-width="1.0"/>
<line x1="413.60" y1="315.04" x2="420.20" y2="315.04" stroke="#4e1a5c" stroke-width="1.0"/>
<line x1="413.60" y1="339.93" x2="420.20" y2="339.93" stroke="#4e1a5c" stroke-width="1.0"/>
<circle cx="416.90" cy="309.67" r="2.3" fill="#4e1a5c"/>
<circle cx="416.90" cy="316.22" r="2.3" fill="#4e1a5c"/>
<circle cx="416.90" cy="322.77" r="2.3" fill="#4e1a5c"/>
<circle cx="416.90" cy="329.71" r="2.3" fill="#4e1a5c"/>
<circle cx="416.90" cy="336.26" r="2.3" fill="#4e1a5c"/>
<circle cx="416.90" cy="342.29" r="2.3" fill="#4e1a5c"/>
<line x1="437.45" y1="314.58" x2="437.45" y2="328.99" stroke="#3e4857" stroke-width="1.0"/>
<line x1="434.15" y1="314.58" x2="440.75" y2="314.58" stroke="#3e4857" stroke-width="1.0"/>
<line x1="434.15" y1="328.99" x2="440.75" y2="328.99" stroke="#3e4857" stroke-width="1.0"/>
<circle cx="434.75" cy="310.06" r="2.3" fill="#3e4857"/>
<circle cx="438.65" cy="307.93" r="2.3" fill="#3e4857"/>
<circle cx="431.75" cy="325.39" r="2.3" fill="#3e4857"/>
<circle cx="435.25" cy="320.93" r="2.3" fill="#3e4857"/>
<circle cx="438.65" cy="323.16" r="2.3" fill="#3e4857"/>
<circle cx="441.75" cy="321.85" r="2.3" fill="#3e4857"/>
<line x1="458.00" y1="330.56" x2="458.00" y2="342.35" stroke="#34aa34" stroke-width="1.0"/>
<line x1="454.70" y1="330.56" x2="461.30" y2="330.56" stroke="#34aa34" stroke-width="1.0"/>
<line x1="454.70" y1="342.35" x2="461.30" y2="342.35" stroke="#34aa34" stroke-width="1.0"/>
<circle cx="453.10" cy="324.40" r="2.3" fill="#34aa34"/>
<circle cx="461.90" cy="322.44" r="2.3" fill="#34aa34"/>
<circle cx="453.10" cy="330.63" r="2.3" fill="#34aa34"/>
<circle cx="461.90" cy="328.14" r="2.3" fill="#34aa34"/>
<circle cx="461.90" cy="335.02" r="2.3" fill="#34aa34"/>
<circle cx="453.10" cy="340.12" r="2.3" fill="#34aa34"/>
<text x="396.40" y="381.80" font-size="9" text-anchor="middle" textLength="12.00" lengthAdjust="spacingAndGlyphs">***</text>
<text x="274.40" y="515.50" font-size="14" font-weight="bold">E</text>
<text transform="translate(378.60,570.80) rotate(-90)" font-size="10" textLength="64.20" lengthAdjust="spacingAndGlyphs">14 day-storage</text>
<line x1="383.90" y1="502.00" x2="383.90" y2="573.70" stroke="#231f20" stroke-width="1.1"/>
<text transform="translate(396.10,513.00) rotate(-90)" font-size="10" textLength="9.60" lengthAdjust="spacingAndGlyphs">RT</text>
<text transform="translate(395.90,558.40) rotate(-90)" font-size="10" textLength="20.90" lengthAdjust="spacingAndGlyphs">Cold</text>
<line x1="402.40" y1="521.40" x2="402.40" y2="573.70" stroke="#231f20" stroke-width="1.1"/>
<circle cx="412.50" cy="508.00" r="2.3" fill="#c5102f"/>
<text x="423.00" y="511.00" font-size="9" textLength="28.50" lengthAdjust="spacingAndGlyphs">Vehicle</text>
<circle cx="412.50" cy="526.20" r="2.3" fill="#17487a"/>
<text x="423.00" y="529.20" font-size="9" textLength="28.50" lengthAdjust="spacingAndGlyphs">Vehicle</text>
<circle cx="412.50" cy="540.50" r="2.3" fill="#4e1a5c"/>
<text x="423.00" y="543.50" font-size="9" textLength="53.50" lengthAdjust="spacingAndGlyphs">R-G04 75 µM</text>
<circle cx="412.50" cy="554.50" r="2.3" fill="#3e4857"/>
<text x="423.00" y="557.50" font-size="9" textLength="55.00" lengthAdjust="spacingAndGlyphs">S-G04 10 µM</text>
<circle cx="412.50" cy="568.60" r="2.3" fill="#34aa34"/>
<text x="423.00" y="571.60" font-size="9" textLength="89.20" lengthAdjust="spacingAndGlyphs">S-G04 10 µM + Wash</text>
<line x1="362.30" y1="559.20" x2="362.30" y2="726.50" stroke="#231f20" stroke-width="1.3"/>
<line x1="358.70" y1="726.50" x2="471.50" y2="726.50" stroke="#231f20" stroke-width="1.3"/>
<line x1="358.30" y1="726.50" x2="362.30" y2="726.50" stroke="#231f20" stroke-width="1.1"/>
<text x="354.40" y="729.70" font-size="10.2" text-anchor="end" textLength="4.60" lengthAdjust="spacingAndGlyphs">0</text>
<line x1="358.30" y1="693.70" x2="362.30" y2="693.70" stroke="#231f20" stroke-width="1.1"/>
<text x="354.40" y="696.90" font-size="10.2" text-anchor="end" textLength="20.90" lengthAdjust="spacingAndGlyphs">5000</text>
<line x1="358.30" y1="660.90" x2="362.30" y2="660.90" stroke="#231f20" stroke-width="1.1"/>
<text x="354.40" y="664.10" font-size="10.2" text-anchor="end" textLength="26.30" lengthAdjust="spacingAndGlyphs">10000</text>
<line x1="358.30" y1="628.10" x2="362.30" y2="628.10" stroke="#231f20" stroke-width="1.1"/>
<text x="354.40" y="631.30" font-size="10.2" text-anchor="end" textLength="26.30" lengthAdjust="spacingAndGlyphs">15000</text>
<line x1="358.30" y1="595.30" x2="362.30" y2="595.30" stroke="#231f20" stroke-width="1.1"/>
<text x="354.40" y="598.50" font-size="10.2" text-anchor="end" textLength="26.30" lengthAdjust="spacingAndGlyphs">20000</text>
<line x1="358.30" y1="562.50" x2="362.30" y2="562.50" stroke="#231f20" stroke-width="1.1"/>
<text x="354.40" y="565.70" font-size="10.2" text-anchor="end" textLength="26.30" lengthAdjust="spacingAndGlyphs">25000</text>
<line x1="375.80" y1="726.50" x2="375.80" y2="729.90" stroke="#231f20" stroke-width="1.1"/>
<line x1="396.35" y1="726.50" x2="396.35" y2="729.90" stroke="#231f20" stroke-width="1.1"/>
<line x1="416.90" y1="726.50" x2="416.90" y2="729.90" stroke="#231f20" stroke-width="1.1"/>
<line x1="437.45" y1="726.50" x2="437.45" y2="729.90" stroke="#231f20" stroke-width="1.1"/>
<line x1="458.00" y1="726.50" x2="458.00" y2="729.90" stroke="#231f20" stroke-width="1.1"/>
<text transform="translate(291.60,643.80) rotate(-90)" font-size="10.8" text-anchor="middle" textLength="17.00" lengthAdjust="spacingAndGlyphs">AUC</text>
<text transform="translate(305.80,643.50) rotate(-90)" font-size="10.8" text-anchor="middle" textLength="105.00" lengthAdjust="spacingAndGlyphs">(platelet recovery fraction</text>
<text transform="translate(320.00,643.90) rotate(-90)" font-size="10.8" text-anchor="middle" textLength="76.00" lengthAdjust="spacingAndGlyphs">x time in minutes)</text>
<rect x="370.05" y="614.98" width="11.50" height="111.52" fill="#e8887c"/>
<rect x="390.60" y="696.98" width="11.50" height="29.52" fill="#8596c0"/>
<rect x="411.15" y="606.91" width="11.50" height="119.59" fill="#9d76a8"/>
<rect x="431.70" y="615.18" width="11.50" height="111.32" fill="#8c94a5"/>
<rect x="452.25" y="610.06" width="11.50" height="116.44" fill="#abd892"/>
<line x1="375.80" y1="609.73" x2="375.80" y2="620.23" stroke="#c5102f" stroke-width="1.0"/>
<line x1="372.50" y1="609.73" x2="379.10" y2="609.73" stroke="#c5102f" stroke-width="1.0"/>
<line x1="372.50" y1="620.23" x2="379.10" y2="620.23" stroke="#c5102f" stroke-width="1.0"/>
<circle cx="371.35" cy="611.96" r="2.3" fill="#c5102f"/>
<circle cx="376.05" cy="607.76" r="2.3" fill="#c5102f"/>
<circle cx="380.35" cy="608.94" r="2.3" fill="#c5102f"/>
<circle cx="376.05" cy="616.16" r="2.3" fill="#c5102f"/>
<circle cx="380.05" cy="615.44" r="2.3" fill="#c5102f"/>
<circle cx="375.45" cy="622.20" r="2.3" fill="#c5102f"/>
<line x1="396.35" y1="689.11" x2="396.35" y2="704.85" stroke="#17487a" stroke-width="1.0"/>
<line x1="393.05" y1="689.11" x2="399.65" y2="689.11" stroke="#17487a" stroke-width="1.0"/>
<line x1="393.05" y1="704.85" x2="399.65" y2="704.85" stroke="#17487a" stroke-width="1.0"/>
<circle cx="395.95" cy="679.92" r="2.3" fill="#17487a"/>
<circle cx="400.45" cy="685.83" r="2.3" fill="#17487a"/>
<circle cx="391.95" cy="690.29" r="2.3" fill="#17487a"/>
<circle cx="396.45" cy="692.58" r="2.3" fill="#17487a"/>
<circle cx="400.45" cy="695.01" r="2.3" fill="#17487a"/>
<circle cx="391.95" cy="697.77" r="2.3" fill="#17487a"/>
<line x1="416.90" y1="595.76" x2="416.90" y2="618.06" stroke="#4e1a5c" stroke-width="1.0"/>
<line x1="413.60" y1="595.76" x2="420.20" y2="595.76" stroke="#4e1a5c" stroke-width="1.0"/>
<line x1="413.60" y1="618.06" x2="420.20" y2="618.06" stroke="#4e1a5c" stroke-width="1.0"/>
<circle cx="417.00" cy="587.76" r="2.3" fill="#4e1a5c"/>
<circle cx="412.60" cy="601.07" r="2.3" fill="#4e1a5c"/>
<circle cx="421.50" cy="604.09" r="2.3" fill="#4e1a5c"/>
<circle cx="412.60" cy="607.57" r="2.3" fill="#4e1a5c"/>
<circle cx="421.50" cy="614.46" r="2.3" fill="#4e1a5c"/>
<circle cx="412.60" cy="619.31" r="2.3" fill="#4e1a5c"/>
<line x1="437.45" y1="605.21" x2="437.45" y2="625.15" stroke="#3e4857" stroke-width="1.0"/>
<line x1="434.15" y1="605.21" x2="440.75" y2="605.21" stroke="#3e4857" stroke-width="1.0"/>
<line x1="434.15" y1="625.15" x2="440.75" y2="625.15" stroke="#3e4857" stroke-width="1.0"/>
<circle cx="441.65" cy="602.58" r="2.3" fill="#3e4857"/>
<circle cx="437.15" cy="607.17" r="2.3" fill="#3e4857"/>
<circle cx="433.05" cy="611.31" r="2.3" fill="#3e4857"/>
<circle cx="441.65" cy="612.16" r="2.3" fill="#3e4857"/>
<circle cx="437.15" cy="615.90" r="2.3" fill="#3e4857"/>
<circle cx="437.15" cy="631.64" r="2.3" fill="#3e4857"/>
<line x1="458.00" y1="600.55" x2="458.00" y2="619.57" stroke="#34aa34" stroke-width="1.0"/>
<line x1="454.70" y1="600.55" x2="461.30" y2="600.55" stroke="#34aa34" stroke-width="1.0"/>
<line x1="454.70" y1="619.57" x2="461.30" y2="619.57" stroke="#34aa34" stroke-width="1.0"/>
<circle cx="453.70" cy="599.56" r="2.3" fill="#34aa34"/>
<circle cx="457.20" cy="600.55" r="2.3" fill="#34aa34"/>
<circle cx="462.40" cy="603.04" r="2.3" fill="#34aa34"/>
<circle cx="457.60" cy="606.65" r="2.3" fill="#34aa34"/>
<circle cx="457.60" cy="613.27" r="2.3" fill="#34aa34"/>
<circle cx="457.60" cy="624.89" r="2.3" fill="#34aa34"/>
<text x="396.40" y="670.60" font-size="9" text-anchor="middle" textLength="12.00" lengthAdjust="spacingAndGlyphs">***</text>
</svg>
</body></html>
